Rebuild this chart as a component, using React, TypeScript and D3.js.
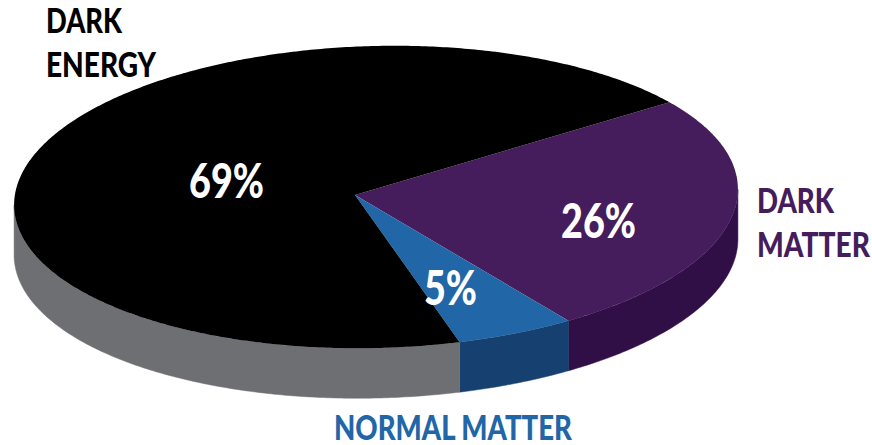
import React from 'react';
import * as d3 from 'd3';

const categories = ['Dark Matter', 'Normal Matter', 'Dark Energy'];
const shares = [26, 5, 69];
const topColors = ['#451c5c', '#2166a6', '#000000'];
const wallColors = ['#300f47', '#16406f', '#6e6f72'];

const width = 872;
const height = 445;

// the disc as it sits on the page, slightly turned and seen in perspective
const center = { x: 376, y: 197 };
const rx = 362;
const ry = 151;
const turn = (-1.5 * Math.PI) / 180;
const apex = { x: 355, y: 195 };
const foreshorten = 0.39;
const depth = 50;
const startAngle = (52.9 * Math.PI) / 180;

type Pt = [number, number];

const rimPoint = (t: number): Pt => {
    const ex = rx * Math.cos(t);
    const ey = ry * Math.sin(t);
    return [
        center.x + ex * Math.cos(turn) - ey * Math.sin(turn),
        center.y + ex * Math.sin(turn) + ey * Math.cos(turn),
    ];
};

// walks from the apex along a pie angle until it hits the rim, returns the rim parameter
const rimParam = (angle: number) => {
    const dirX = Math.sin(angle);
    const dirY = -foreshorten * Math.cos(angle);
    const toLocal = (x: number, y: number): Pt => [
        (x * Math.cos(turn) + y * Math.sin(turn)) / rx,
        (-x * Math.sin(turn) + y * Math.cos(turn)) / ry,
    ];
    const [ox, oy] = toLocal(apex.x - center.x, apex.y - center.y);
    const [dx, dy] = toLocal(dirX, dirY);
    const a = dx * dx + dy * dy;
    const b = 2 * (ox * dx + oy * dy);
    const c = ox * ox + oy * oy - 1;
    const s = (-b + Math.sqrt(b * b - 4 * a * c)) / (2 * a);
    return Math.atan2(oy + s * dy, ox + s * dx);
};

const line = d3.line<Pt>().x((d) => d[0]).y((d) => d[1]);

const rimPoints = (from: number, to: number): Pt[] => {
    const steps = Math.max(2, Math.ceil((to - from) / 0.01));
    return d3.range(steps + 1).map((i) => rimPoint(from + ((to - from) * i) / steps));
};

const pie = d3
    .pie<number>()
    .sort(null)
    .startAngle(startAngle)
    .endAngle(startAngle + 2 * Math.PI);

const arcs = pie(shares);

// rim parameters, kept increasing so each slice is one continuous stretch
const slices = arcs.map((d) => {
    const from = rimParam(d.startAngle);
    let to = rimParam(d.endAngle);
    while (to < from) to += 2 * Math.PI;
    return { from, to };
});

// the part of the rim that faces the viewer
const frontFrom = Math.atan2(-ry * Math.sin(turn), rx * Math.cos(turn));
const frontTo = frontFrom + Math.PI;

const App: React.FC = () => {
    const squeezed = { lengthAdjust: 'spacingAndGlyphs' as const };
    return (
        <svg
            width={width}
            height={height}
            style={{ position: 'absolute', left: 0, top: 0, background: '#fff' }}
        >
            {slices.map((s, i) => {
                const ranges: [number, number][] = [
                    [Math.max(s.from, frontFrom), Math.min(s.to, frontTo)],
                    [Math.max(s.from, frontFrom + 2 * Math.PI), Math.min(s.to, frontTo + 2 * Math.PI)],
                    [Math.max(s.from, frontFrom - 2 * Math.PI), Math.min(s.to, frontTo - 2 * Math.PI)],
                ];
                return ranges
                    .filter(([a, b]) => b > a)
                    .map(([a, b], j) => {
                        const rim = rimPoints(a, b);
                        const lower = rim.map(([x, y]): Pt => [x, y + depth]).reverse();
                        return (
                            <path
                                key={`${categories[i]}-wall-${j}`}
                                d={`${line([...rim, ...lower])}Z`}
                                fill={wallColors[i]}
                                stroke={wallColors[i]}
                                strokeWidth={0.5}
                            />
                        );
                    });
            })}
            {slices.map((s, i) => (
                <path
                    key={categories[i]}
                    d={`${line([[apex.x, apex.y], ...rimPoints(s.from, s.to)])}Z`}
                    fill={topColors[i]}
                />
            ))}
            <g fontFamily="Lato, sans-serif" fontWeight={900} fill="#fff" fontSize={47}>
                <text x={189} y={198} textLength={75} {...squeezed}>{`${shares[2]}%`}</text>
                <text x={561} y={238} textLength={75} {...squeezed}>{`${shares[0]}%`}</text>
                <text x={424} y={305} textLength={53} {...squeezed}>{`${shares[1]}%`}</text>
            </g>
            <g fontFamily="Lato, sans-serif" fontWeight={900} fontSize={34}>
                <text x={46} y={33} fill="#000" textLength={76} {...squeezed}>DARK</text>
                <text x={46} y={77} fill="#000" textLength={110} {...squeezed}>ENERGY</text>
                <text x={757} y={213} fill="#451c5c" textLength={77} {...squeezed}>DARK</text>
                <text x={757} y={257} fill="#451c5c" textLength={113} {...squeezed}>MATTER</text>
                <text x={334} y={440} fill="#2166a6" textLength={238} {...squeezed}>NORMAL MATTER</text>
            </g>
        </svg>
    );
};

export default App;
